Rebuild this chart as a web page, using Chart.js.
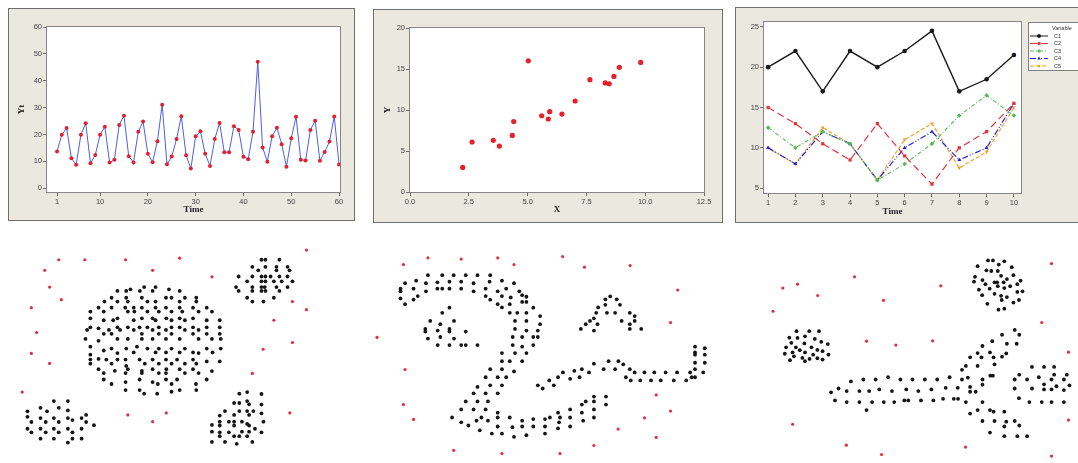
<!DOCTYPE html>
<html>
<head>
<meta charset="utf-8">
<script src="https://cdn.jsdelivr.net/npm/chart.js@4.4.1/dist/chart.umd.min.js"></script>
<style>
  html, body { margin: 0; padding: 0; background: #ffffff; width: 1078px; height: 463px; overflow: hidden; }
  .frame { position: absolute; background: #ebe8df; border: 1px solid #6f6f6f; box-sizing: border-box; }
  canvas { position: absolute; }
</style>
</head>
<body>
<div class="frame" style="left:8px;top:8px;width:347px;height:213px"></div>
<div class="frame" style="left:373px;top:9px;width:350px;height:214px"></div>
<div class="frame" style="left:735px;top:7px;width:350px;height:216px"></div>

<canvas id="tsChart" width="345" height="211" style="left:9px;top:9px"></canvas>
<canvas id="xyChart" width="348" height="212" style="left:374px;top:10px"></canvas>
<canvas id="multiChart" width="342" height="214" style="left:736px;top:8px"></canvas>
<canvas id="dotsA" width="360" height="233" style="left:0px;top:230px"></canvas>
<canvas id="dotsB" width="370" height="233" style="left:360px;top:230px"></canvas>
<canvas id="dotsC" width="348" height="233" style="left:730px;top:230px"></canvas>

<script>
// ---------- time series Yt ----------
const ytValues = [13.7,19.9,22.4,11.2,8.7,19.9,24.2,9.3,12.4,19.9,
                  22.9,9.6,10.6,23.5,27.0,11.9,9.6,21.0,24.8,12.8,
                  9.7,17.5,31.1,8.9,11.8,18.3,26.8,12.3,7.3,19.3,
                  21.2,12.8,8.3,18.3,24.3,13.4,13.4,23.1,21.7,11.7,
                  10.8,21.0,47.1,15.2,9.9,19.3,22.5,16.4,8.0,18.6,
                  26.6,10.6,10.3,21.7,25.1,10.2,13.5,17.4,26.7,8.8];
const timeTicks60 = [1,10,20,30,40,50,60];
const ytTicks = [0,10,20,30,40,50,60];

// ---------- scatter X / Y ----------
const xValues = [2.24,2.64,3.54,3.80,4.35,4.41,5.03,5.60,5.88,5.94,6.46,7.02,7.65,8.30,8.47,8.67,8.90,9.81];
const yValues = [3.0,6.1,6.3,5.6,6.9,8.6,16.0,9.3,8.9,9.8,9.5,11.1,13.7,13.3,13.2,14.1,15.2,15.8];
const xTicks = [0,2.5,5,7.5,10,12.5];
const yTicks = [0,5,10,15,20];

// ---------- five variables over time ----------
const timeCats = [1,2,3,4,5,6,7,8,9,10];
const c1 = [20,22,17,22,20,22,24.5,17,18.5,21.5];
const c2 = [15,13,10.5,8.5,13,9,5.5,10,12,15.5];
const c3 = [12.5,10,12,10.5,6,8,10.5,14,16.5,14];
const c4 = [10,8,12,10.5,6,10,12,8.5,10,15.5];
const c5 = [10,8,12.5,10.5,6,11,13,7.5,9.5,15];
const multiTicks = [5,10,15,20,25];

// ---------- point patterns (plot units) ----------
const redDotsA = [[928,50],[168,80],[248,80],[373,80],[539,75],[125,113],[456,113],[638,133],[140,165],[176,204],
  [885,210],[84,229],[928,235],[828,268],[100,306],[885,337],[795,358],[84,371],[140,402],[762,433],
  [56,491],[380,562],[498,556],[456,583],[877,556]];
const blackDotsA = [
  // upper right cluster
  [790,80],[802,80],[845,80],[762,102],[802,102],[836,102],[870,102],[780,113],[836,113],[876,113],
  [720,132],[762,132],[790,132],[802,132],[818,132],[845,132],[870,132],[885,147],[746,147],[790,147],
  [802,147],[828,147],[852,147],[712,165],[762,165],[790,165],[800,165],[836,165],[870,165],[720,177],
  [762,177],[790,177],[802,177],[845,177],[746,198],[762,210],[796,210],[828,198],
  // large disc
  [430,165],[465,165],[388,172],[506,172],[348,177],[375,177],[417,177],[456,177],[539,177],
  [330,198],[375,198],[423,198],[497,198],[514,198],[555,198],[590,198],
  [308,210],[348,210],[380,210],[440,210],[465,210],[539,210],[590,210],
  [290,229],[330,229],[372,229],[398,229],[423,229],[465,229],[497,229],[539,229],[580,229],[622,229],
  [265,241],[306,241],[380,241],[400,241],[440,241],[475,241],[514,241],[547,241],[597,241],[638,241],
  [265,262],[348,262],[423,262],[456,262],[498,262],[539,262],[580,262],
  [306,268],[335,268],[398,268],[465,268],[514,268],[555,268],[622,268],[662,268],
  [265,290],[290,293],[348,290],[380,290],[416,290],[440,290],[475,290],[514,290],[539,290],[580,290],[622,290],[662,290],
  [255,298],[322,298],[356,298],[398,298],[456,298],[497,298],[555,298],[597,298],
  [306,310],[330,310],[423,310],[475,310],[514,310],[580,310],[622,310],[662,310],
  [250,326],[290,332],[348,326],[380,326],[423,326],[456,326],[497,326],[539,326],[597,326],[638,326],[665,326],
  [265,350],[306,362],[330,356],[348,370],[375,356],[408,350],[440,356],[475,356],[514,356],[555,356],[580,368],[597,370],[622,356],[665,356],
  [265,375],[398,368],[465,368],[497,368],[539,368],[640,368],
  [265,390],[290,388],[314,390],[348,390],[373,390],[416,390],[456,390],[497,390],[531,390],[580,390],[622,396],[662,396],
  [265,403],[330,403],[375,410],[432,403],[475,403],[514,403],[555,403],[590,403],
  [290,420],[340,425],[380,420],[423,425],[456,420],[498,420],[539,420],[580,420],[638,426],
  [306,432],[373,432],[423,432],[475,432],[497,432],[555,432],[597,432],
  [306,452],[416,452],[456,460],[497,452],[531,452],[622,452],
  [330,466],[373,460],[472,466],[514,466],[589,466],
  [373,485],[416,485],[539,485],[590,485],[430,496],[470,496],[514,490],
  // lower left cluster
  [153,519],[196,519],[72,551],[112,540],[168,540],[132,551],[196,548],[252,562],[72,568],[112,572],
  [153,572],[196,572],[238,572],[84,584],[128,584],[168,584],[210,578],[252,584],[276,594],[72,605],
  [112,605],[153,605],[196,605],[238,605],[84,616],[128,616],[168,616],[210,616],[112,636],[153,636],
  [210,636],[238,636],[196,648],
  // lower right cluster
  [722,496],[746,491],[790,497],[706,525],[722,525],[746,519],[752,529],[790,530],[678,550],[722,550],
  [746,550],[765,550],[662,564],[706,562],[752,562],[790,557],[662,583],[690,583],[706,583],[730,583],
  [746,590],[752,595],[796,583],[638,593],[662,595],[706,595],[770,605],[638,614],[662,616],[690,616],
  [730,614],[752,614],[790,616],[662,628],[706,628],[722,628],[746,628],[638,646],[678,646],[714,652],[762,646]];

const redDotsB = [[196,74],[298,78],[410,74],[460,95],[121,95],[609,70],[676,103],[816,98],[962,174],[940,275],
  [40,321],[126,421],[896,500],[121,530],[940,550],[152,576],[860,571],[779,606],[896,632],[275,672],
  [423,682],[601,682],[705,657]];
const blackDotsB = [
  // upper loop of the figure
  [196,128],[240,128],[275,128],[312,128],[348,128],[387,128],
  [126,153],[160,145],[190,153],[225,150],[262,148],[298,148],[336,153],[385,148],[423,145],[460,153],
  [112,170],[112,178],[152,170],[190,178],[225,170],[240,170],[262,170],[298,170],[336,178],[373,170],[410,178],[436,170],[476,178],
  [112,200],[152,204],[165,193],[373,193],[387,204],[423,193],[450,197],[485,190],[498,195],
  [126,218],[410,218],[423,228],[447,218],[485,211],[498,211],
  [262,229],[240,245],[447,245],[470,245],[498,245],[519,229],
  [203,270],[234,280],[276,270],[463,270],[498,270],[540,255],
  [188,295],[188,303],[226,300],[262,295],[262,303],[312,303],[463,295],[498,300],[533,300],[540,280],
  [196,325],[234,320],[276,325],[456,320],[485,320],[519,320],[533,320],
  [226,345],[262,345],[298,345],[312,345],[348,345],[456,345],[485,350],[519,345],
  // descending neck
  [423,370],[463,370],[498,370],[423,395],[447,395],[485,395],[387,420],[423,420],[460,427],
  [373,445],[410,445],[436,445],[348,475],[387,470],[423,470],[336,495],[373,495],[410,495],
  [312,520],[348,520],[380,520],[298,545],[336,545],[373,545],[410,555],
  // lower sweep
  [270,570],[298,585],[320,595],[345,580],[360,570],[380,580],[410,570],[447,570],[485,580],[519,575],
  [555,575],[570,570],[601,570],[632,570],[672,580],[705,570],
  [355,610],[392,620],[423,620],[460,630],[498,625],[555,620],[410,598],[455,600],[485,598],[519,598],
  [555,598],[595,604],[632,598],[598,585],
  [595,555],[632,545],[668,555],[705,545],[742,530],[668,530],[705,520],[742,505],[705,505],[680,520],
  // wave on the right
  [533,470],[548,480],[568,455],[582,470],[595,445],[610,430],[632,450],[645,425],[661,445],[668,420],
  [690,430],[705,403],[735,420],[750,395],[770,420],[780,395],[795,405],[803,445],[815,420],[818,455],
  [830,430],[847,455],[860,430],[880,455],[890,430],[910,455],[925,430],[950,455],[960,430],[988,455],
  [1000,430],[1005,445],[1015,445],[1015,420],[1040,430],[1015,400],[1045,400],[1045,375],[1015,375],
  [1015,350],[1045,355],[1015,368],
  // small peak
  [755,194],[740,203],[775,203],[740,220],[718,228],[785,220],[712,245],[745,245],[770,245],[705,262],
  [815,245],[830,255],[693,270],[790,270],[830,270],[680,280],[716,280],[815,280],[665,295],[705,300],
  [815,295],[850,295]];

const redDotsC = [[975,92],[150,168],[195,156],[257,191],[370,133],[635,161],[459,206],[120,240],[945,275],[407,333],
  [497,345],[610,332],[1027,367],[180,591],[1027,578],[345,656],[453,685],[711,662],[975,690]];
const blackDotsC = [
  // upper right cluster
  [780,82],[795,82],[830,85],[748,100],[775,113],[790,115],[813,95],[853,103],[740,133],[763,143],
  [810,115],[820,130],[838,140],[858,128],[880,145],[737,148],[772,156],[800,150],[808,150],[828,150],
  [848,162],[870,156],[752,173],[785,170],[810,162],[830,168],[870,180],[886,178],[762,190],[800,186],
  [820,192],[838,196],[875,205],[778,217],[822,205],[858,213],[812,235],[830,232],
  // left cluster
  [192,302],[231,302],[261,302],[170,322],[195,323],[218,318],[248,326],[176,338],[216,340],[268,335],
  [288,342],[160,352],[190,352],[202,361],[238,352],[256,360],[272,364],[156,372],[180,368],[218,368],
  [243,375],[290,375],[172,392],[210,385],[218,395],[232,388],[256,386],[272,390],[184,380],
  // long body
  [359,458],[397,452],[435,452],[473,445],[511,452],[548,452],[586,452],[624,452],[662,445],[700,452],
  [298,492],[321,480],[346,488],[385,488],[415,488],[446,483],[485,488],[529,483],[566,488],[606,483],
  [650,478],[687,478],[725,490],
  [310,517],[346,522],[385,522],[424,522],[460,522],[492,522],[523,517],[535,517],[574,517],[612,517],
  [642,512],[675,512],[688,512],[712,522],[763,522],[407,547],
  // rising arm
  [862,298],[823,313],[876,313],[793,333],[838,341],[868,341],[763,348],[836,371],[748,370],[786,368],
  [823,381],[725,383],[760,383],[797,383],[712,410],[748,410],[800,405],[700,422],[787,440],[795,440],
  [718,446],[763,452],[725,475],[763,468],[742,490],
  // lower legs
  [725,558],[748,547],[786,547],[797,552],[830,552],[763,581],[800,581],[836,583],[862,581],[786,617],
  [830,598],[876,595],[830,628],[870,628],[900,628],
  // right cluster
  [915,413],[952,413],[983,413],[876,437],[936,445],[983,437],[1022,437],[862,452],[900,452],[975,452],
  [1013,452],[952,467],[990,473],[1030,470],[862,480],[915,480],[952,483],[975,483],[1013,485],[875,510],
  [907,522],[945,522],[975,522],[1013,522]];

// ---------- shared look ----------
Chart.defaults.animation = false;
Chart.defaults.responsive = false;
Chart.defaults.plugins.legend.display = false;
Chart.defaults.plugins.tooltip.enabled = false;

const tickFont = { family: 'Liberation Sans', size: 7.5 };
const titleFont = { family: 'Liberation Serif', size: 9, weight: 'bold' };
const tickColor = '#444';

// white plotting area with a grey box around it
const plotBox = {
  id: 'plotBox',
  beforeDraw(chart) {
    const a = chart.chartArea, ctx = chart.ctx;
    ctx.save();
    ctx.fillStyle = '#ffffff';
    ctx.fillRect(a.left, a.top, a.right - a.left, a.bottom - a.top);
    ctx.restore();
  },
  afterDraw(chart) {
    const a = chart.chartArea, ctx = chart.ctx;
    ctx.save();
    ctx.strokeStyle = '#858585';
    ctx.lineWidth = 1;
    ctx.strokeRect(Math.round(a.left) - 0.5, Math.round(a.top) - 0.5,
                   Math.round(a.right - a.left) + 1, Math.round(a.bottom - a.top) + 1);
    ctx.restore();
  }
};

function axis(opts) {
  const s = {
    type: 'linear',
    min: opts.min, max: opts.max,
    afterBuildTicks: sc => { sc.ticks = opts.ticks.map(v => ({ value: v })); },
    afterFit: sc => { if (opts.width !== undefined) sc.width = opts.width; if (opts.height !== undefined) sc.height = opts.height; },
    grid: { drawOnChartArea: false, drawTicks: true, tickLength: 4, color: '#6a6a6a' },
    border: { display: false },
    ticks: { font: tickFont, color: tickColor, padding: 1, autoSkip: false, maxRotation: 0,
             callback: opts.fmt || (v => String(v)) },
    title: { display: !!opts.title, text: opts.title || '', font: titleFont, color: '#222',
             padding: opts.titlePad || 0 }
  };
  return s;
}

// ---------- Yt against Time ----------
new Chart(document.getElementById('tsChart'), {
  type: 'line',
  data: {
    datasets: [{
      data: ytValues.map((v, i) => ({ x: i + 1, y: v })),
      borderColor: '#4f5fe6', borderWidth: 1, tension: 0,
      pointRadius: 2, pointBackgroundColor: '#e3202c', pointBorderColor: '#e3202c', pointBorderWidth: 0,
      clip: false
    }]
  },
  options: {
    layout: { padding: { left: 0, top: 18, right: 14, bottom: 0 } },
    scales: {
      x: axis({ min: -1.1, max: 60.2, ticks: timeTicks60, height: 28, title: 'Time', titlePad: { top: 0, bottom: 5 } }),
      y: axis({ min: -1.4, max: 60, ticks: ytTicks, width: 38, title: 'Yt', titlePad: { top: 7, bottom: 0 } })
    }
  },
  plugins: [plotBox]
});

// ---------- Y against X ----------
new Chart(document.getElementById('xyChart'), {
  type: 'scatter',
  data: {
    datasets: [{
      data: xValues.map((x, i) => ({ x: x, y: yValues[i] })),
      pointRadius: 2.6, pointBackgroundColor: '#e4222c', pointBorderColor: '#e4222c', pointBorderWidth: 0,
      clip: false
    }]
  },
  options: {
    layout: { padding: { left: 0, top: 18, right: 18, bottom: 0 } },
    scales: {
      x: axis({ min: 0, max: 12.5, ticks: xTicks, height: 30, title: 'X', titlePad: { top: 0, bottom: 7 }, fmt: v => v.toFixed(1) }),
      y: axis({ min: 0, max: 20, ticks: yTicks, width: 36, title: 'Y', titlePad: { top: 8, bottom: 0 } })
    }
  },
  plugins: [plotBox]
});

// ---------- C1..C5 against Time ----------
const seriesStyle = [
  { label: 'C1', data: c1, color: '#1b1b1b', dash: [], pointStyle: 'circle', width: 1.4 },
  { label: 'C2', data: c2, color: '#e5343c', dash: [7, 4], pointStyle: 'rect', width: 1.2 },
  { label: 'C3', data: c3, color: '#55bb55', dash: [4, 2, 1, 2], pointStyle: 'rectRot', width: 1.1 },
  { label: 'C4', data: c4, color: '#2323d6', dash: [6, 2, 1, 2, 1, 2], pointStyle: 'triangle', width: 1.2 },
  { label: 'C5', data: c5, color: '#f2a22e', dash: [4, 2], pointStyle: 'triangle', rot: 180, width: 1.2 }
];

const variableLegend = {
  id: 'variableLegend',
  afterDraw(chart) {
    const ctx = chart.ctx, a = chart.chartArea;
    const x0 = a.right + 7, y0 = 14;
    ctx.save();
    ctx.fillStyle = '#ffffff';
    ctx.strokeStyle = '#808080';
    ctx.lineWidth = 1;
    ctx.fillRect(x0, y0, 80, 48);
    ctx.strokeRect(x0 + 0.5, y0 + 0.5, 80, 48);
    ctx.font = '5.5px "Liberation Sans"';
    ctx.fillStyle = '#333';
    ctx.textBaseline = 'middle';
    ctx.fillText('Variable', x0 + 24, y0 + 6);
    chart.data.datasets.forEach((ds, i) => {
      const y = y0 + 14 + i * 7.5;
      ctx.save();
      ctx.strokeStyle = ds.borderColor;
      ctx.lineWidth = 1;
      ctx.setLineDash(ds.borderDash || []);
      ctx.beginPath();
      ctx.moveTo(x0 + 2, y);
      ctx.lineTo(x0 + 20, y);
      ctx.stroke();
      ctx.restore();
      ctx.fillStyle = ds.pointBackgroundColor;
      Chart.helpers.drawPoint(ctx, { pointStyle: ds.pointStyle, rotation: ds.pointRotation || 0, radius: 2, borderWidth: 0 }, x0 + 11, y);
      ctx.fillStyle = '#333';
      ctx.fillText(ds.label, x0 + 26, y);
    });
    ctx.restore();
  }
};

new Chart(document.getElementById('multiChart'), {
  type: 'line',
  data: {
    datasets: seriesStyle.map(s => ({
      label: s.label,
      data: s.data.map((v, i) => ({ x: timeCats[i], y: v })),
      borderColor: s.color, borderWidth: s.width, borderDash: s.dash, tension: 0,
      pointStyle: s.pointStyle, pointRotation: s.rot || 0, pointRadius: 2.3,
      pointBackgroundColor: s.color, pointBorderColor: s.color, pointBorderWidth: 0,
      clip: false
    }))
  },
  options: {
    layout: { padding: { left: 0, top: 14, right: 57, bottom: 0 } },
    scales: {
      x: axis({ min: 0.85, max: 10.26, ticks: timeCats, height: 29, title: 'Time', titlePad: { top: 0, bottom: 5 } }),
      y: axis({ min: 4.4, max: 25.6, ticks: multiTicks, width: 28 })
    }
  },
  plugins: [plotBox, variableLegend]
});

// ---------- point patterns ----------
function dotPattern(id, red, black, xMax) {
  new Chart(document.getElementById(id), {
    type: 'scatter',
    data: {
      datasets: [
        { data: red.map(p => ({ x: p[0], y: p[1] })), pointRadius: 1.6,
          pointBackgroundColor: '#e2303b', pointBorderWidth: 0, clip: false },
        { data: black.map(p => ({ x: p[0], y: p[1] })), pointRadius: 1.9,
          pointBackgroundColor: '#151515', pointBorderWidth: 0, clip: false }
      ]
    },
    options: {
      layout: { padding: 0 },
      scales: {
        x: { type: 'linear', display: false, min: 0, max: xMax },
        y: { type: 'linear', display: false, min: 0, max: 699, reverse: true }
      }
    }
  });
}
dotPattern('dotsA', redDotsA, blackDotsA, 1080);
dotPattern('dotsB', redDotsB, blackDotsB, 1110);
dotPattern('dotsC', redDotsC, blackDotsC, 1044);
</script>
</body>
</html>
